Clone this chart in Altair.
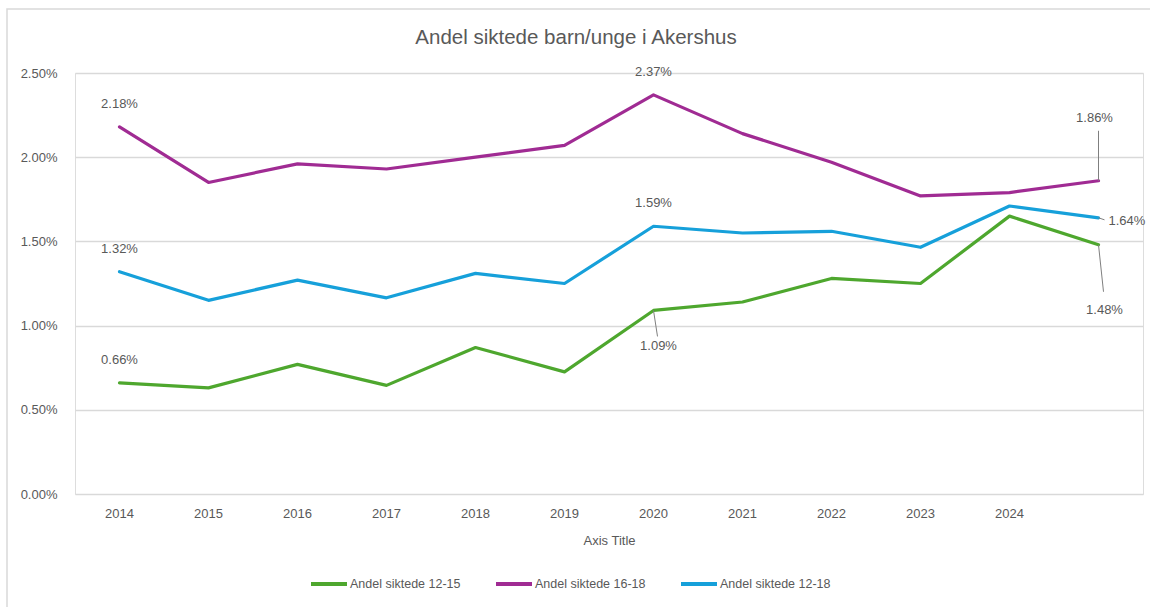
import altair as alt
import pandas as pd

years = ["2014", "2015", "2016", "2017", "2018", "2019", "2020", "2021", "2022", "2023", "2024", "2025"]
tick_labels = ["2014", "2015", "2016", "2017", "2018", "2019", "2020", "2021", "2022", "2023", "2024", ""]
series_names = ["Andel siktede 12-15", "Andel siktede 16-18", "Andel siktede 12-18"]
andel_12_15 = [0.0066, 0.0063, 0.0077, 0.00645, 0.0087, 0.00725, 0.0109, 0.0114, 0.0128, 0.0125, 0.0165, 0.0148]
andel_16_18 = [0.0218, 0.0185, 0.0196, 0.0193, 0.0200, 0.0207, 0.0237, 0.0214, 0.0197, 0.0177, 0.0179, 0.0186]
andel_12_18 = [0.0132, 0.0115, 0.0127, 0.01165, 0.0131, 0.0125, 0.0159, 0.0155, 0.0156, 0.01465, 0.0171, 0.0164]
colors = ["#4EA72E", "#A02B93", "#16A0DA"]

rows = []
for name, vals in zip(series_names, [andel_12_15, andel_16_18, andel_12_18]):
    for y, v in zip(years, vals):
        rows.append({"year": y, "value": v, "series": name})
df = pd.DataFrame(rows)

FONT = "Liberation Sans, Arial, sans-serif"
TXT = "#595959"
W, H = 1068, 421
FS = 13

label_map = "{" + ", ".join(f"'{y}': '{t}'" for y, t in zip(years, tick_labels)) + "}"

x_enc = alt.X("year:N", sort=years,
              scale=alt.Scale(paddingInner=0, paddingOuter=0, align=0.5),
              axis=alt.Axis(title="Axis Title", labelExpr=f"{label_map}[datum.value]",
                            labelAngle=0, ticks=False, domain=False, grid=False,
                            labelPadding=13, titlePadding=14, labelFont=FONT, titleFont=FONT,
                            labelFontSize=FS, titleFontSize=FS, labelColor=TXT, titleColor=TXT,
                            titleFontWeight="normal"))
y_enc = alt.Y("value:Q", scale=alt.Scale(domain=[0, 0.025], nice=False),
              axis=alt.Axis(title=None, format=".2%", values=[0, 0.005, 0.01, 0.015, 0.02, 0.025],
                            ticks=False, domain=False, gridColor="#D9D9D9", gridWidth=1.3,
                            labelPadding=18, labelFont=FONT, labelFontSize=FS, labelColor=TXT))

base = alt.Chart(df)

frame = alt.Chart(pd.DataFrame({"a": [0]})).mark_rect(
    fill=None, stroke="#D9D9D9", strokeWidth=1.5
).encode(x=alt.value(-68), x2=alt.value(W + 40), y=alt.value(-64), y2=alt.value(H + 120))

lines = base.mark_line(strokeWidth=3.2, strokeCap="round", strokeJoin="round").encode(
    x=x_enc, y=y_enc,
    color=alt.Color("series:N", sort=series_names,
                    scale=alt.Scale(domain=series_names, range=colors),
                    legend=alt.Legend(title=None, orient="none", legendX=234, legendY=491,
                                      direction="horizontal", symbolType="stroke",
                                      symbolSize=1296, symbolStrokeWidth=4,
                                      labelFont=FONT, labelFontSize=12.5, labelColor=TXT,
                                      labelOffset=1, columnPadding=27)),
)

# label placements: (series, year, dx, dy, align, leader x2Offset, leader y2Offset)
placements = [
    ("Andel siktede 12-15", "2014", 0, -23, "center", None, None),
    ("Andel siktede 16-18", "2014", 0, -23, "center", None, None),
    ("Andel siktede 12-18", "2014", 0, -23, "center", None, None),
    ("Andel siktede 16-18", "2020", 0, -23, "center", None, None),
    ("Andel siktede 12-18", "2020", 0, -23, "center", None, None),
    ("Andel siktede 12-15", "2020", 5, 36, "center", 4, 26),
    ("Andel siktede 16-18", "2025", -4, -63, "center", 0, -50),
    ("Andel siktede 12-18", "2025", 10, 3, "left", 6, 2),
    ("Andel siktede 12-15", "2025", 6, 65, "center", 5, 47),
]

layers = [frame, lines]
for s, yr, dx, dy, al, lx, ly in placements:
    sub = base.transform_filter(
        (alt.datum.series == s) & (alt.datum.year == yr)
    )
    layers.append(sub.mark_text(dx=dx, dy=dy, align=al, baseline="middle", font=FONT,
                                fontSize=FS, color=TXT).encode(
        x=alt.X("year:N", sort=years), y="value:Q",
        text=alt.Text("value:Q", format=".2%")))
    if lx is not None:
        layers.append(sub.mark_rule(color="#7F7F7F", strokeWidth=1, x2Offset=lx, y2Offset=ly).encode(
            x=alt.X("year:N", sort=years), y="value:Q",
            x2=alt.X2("year"), y2=alt.Y2("value")))

chart = alt.layer(*layers).properties(
    width=W, height=H,
    title=alt.TitleParams("Andel siktede barn/unge i Akershus", font=FONT, fontSize=20.5,
                          fontWeight="normal", color=TXT, anchor="middle", dx=-33, offset=-40),
    autosize=alt.AutoSizeParams(type="none"),
    padding={"left": 75, "top": 73, "right": 7, "bottom": 113},
).configure_view(stroke=None).configure(background="white")

chart.save("out.html", embed_options={"renderer": "svg", "actions": False})
